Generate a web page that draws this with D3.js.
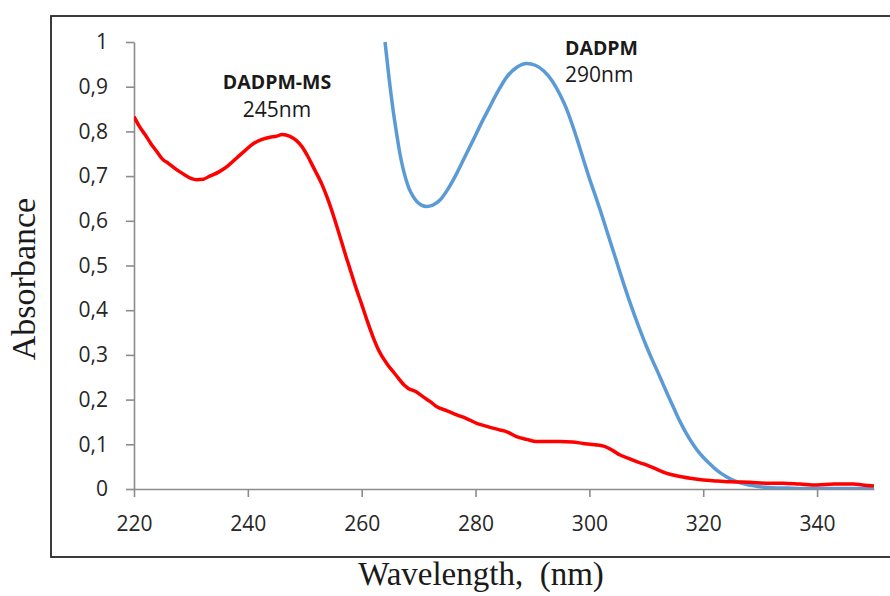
<!DOCTYPE html>
<html>
<head>
<meta charset="utf-8">
<script src="https://cdn.jsdelivr.net/npm/d3@7/dist/d3.min.js"></script>
<style>
  html, body { margin: 0; padding: 0; background: #fff; }
  svg { display: block; }
</style>
</head>
<body>
<svg id="chart" width="890" height="596"></svg>
<script>
// ---------- data ----------
const xTicks = [220, 240, 260, 280, 300, 320, 340];
const xTickLabels = ["220", "240", "260", "280", "300", "320", "340"];
const yTicks = [0, 0.1, 0.2, 0.3, 0.4, 0.5, 0.6, 0.7, 0.8, 0.9, 1];
const yTickLabels = ["0", "0,1", "0,2", "0,3", "0,4", "0,5", "0,6", "0,7", "0,8", "0,9", "1"];

// DADPM-MS (red)
const msWavelength = [220, 221, 222, 223, 224, 225, 226, 227, 228, 229, 230, 231, 232.2, 233, 235, 236.5, 238, 239.5, 241, 242.5, 243.9, 245, 246, 247.4, 248.5, 249.5, 250.5, 251.5, 253, 254, 255, 256.2, 257, 258, 259, 260, 261, 262, 263, 264.4, 266, 267.5, 268.2, 269.5, 270.8, 272, 273.2, 275, 276.7, 278.5, 280.2, 282, 284.3, 285.5, 287.2, 289, 290.7, 293, 294.8, 297, 298.9, 301, 302.5, 304, 305.4, 307, 308.3, 310, 311.5, 313.6, 315.5, 317.7, 320, 322.4, 325, 328.2, 331, 334, 337, 340, 343, 346.4, 348, 350];
const msAbsorbance = [0.833, 0.81, 0.792, 0.772, 0.755, 0.738, 0.729, 0.719, 0.71, 0.702, 0.695, 0.692, 0.693, 0.698, 0.71, 0.723, 0.74, 0.757, 0.773, 0.782, 0.787, 0.789, 0.793, 0.789, 0.78, 0.766, 0.745, 0.72, 0.682, 0.65, 0.613, 0.564, 0.53, 0.49, 0.45, 0.413, 0.375, 0.34, 0.31, 0.281, 0.255, 0.232, 0.225, 0.218, 0.206, 0.196, 0.184, 0.175, 0.166, 0.157, 0.147, 0.14, 0.132, 0.128, 0.117, 0.111, 0.106, 0.106, 0.106, 0.105, 0.102, 0.099, 0.096, 0.087, 0.076, 0.068, 0.061, 0.054, 0.046, 0.035, 0.029, 0.024, 0.020, 0.018, 0.016, 0.015, 0.013, 0.013, 0.011, 0.009, 0.011, 0.011, 0.009, 0.007];

// DADPM (blue)
const dWavelength = [264.1, 264.8, 265.6, 266.2, 266.7, 267.4, 268.2, 269, 269.7, 270.5, 271.4, 272.5, 273.8, 275.2, 276.7, 278.2, 279.6, 281, 282.5, 284, 285.5, 287.2, 289, 290.5, 292, 293.5, 295, 296, 297, 298, 299, 300, 301, 302, 303, 304, 305, 306, 307, 308, 309, 310, 311, 312, 313, 314, 315, 316, 317, 318, 319, 320, 321, 322, 323, 324, 325, 326, 327, 328, 329, 330, 332, 335, 340, 345, 350];
const dAbsorbance = [1.0, 0.92, 0.84, 0.79, 0.751, 0.71, 0.676, 0.655, 0.643, 0.635, 0.632, 0.635, 0.647, 0.672, 0.706, 0.745, 0.781, 0.818, 0.855, 0.891, 0.922, 0.943, 0.952, 0.948, 0.935, 0.912, 0.878, 0.85, 0.815, 0.776, 0.735, 0.695, 0.658, 0.62, 0.58, 0.54, 0.50, 0.46, 0.422, 0.386, 0.352, 0.32, 0.29, 0.262, 0.233, 0.204, 0.176, 0.149, 0.125, 0.104, 0.086, 0.071, 0.058, 0.046, 0.036, 0.028, 0.021, 0.016, 0.012, 0.009, 0.007, 0.005, 0.003, 0.002, 0.001, 0.001, 0.001];

const seriesNames = ["DADPM-MS", "DADPM"];
const seriesPeaks = ["245nm", "290nm"];
const seriesColors = ["#ff0000", "#5b9bd5"];

// ---------- layout ----------
const svg = d3.select("#chart");
const plot = { left: 134, right: 874, top: 42, bottom: 489 };

const x = d3.scaleLinear().domain([220, 350]).range([plot.left, plot.right]);
const y = d3.scaleLinear().domain([0, 1]).range([plot.bottom, plot.top]);

// outer frame
svg.append("rect")
  .attr("x", 51).attr("y", 16)
  .attr("width", 860).attr("height", 541)
  .attr("fill", "none")
  .attr("stroke", "#262626")
  .attr("stroke-width", 1.8);

const tickFont = "'Open Sans', 'Noto Sans', sans-serif";

// y axis
const yAxis = svg.append("g")
  .attr("transform", `translate(${plot.left},0)`)
  .call(d3.axisLeft(y).tickValues(yTicks)
    .tickFormat((d, i) => yTickLabels[i])
    .tickSize(8).tickSizeOuter(0).tickPadding(18));

// x axis
const xAxis = svg.append("g")
  .attr("transform", `translate(0,${plot.bottom})`)
  .call(d3.axisBottom(x).tickValues(xTicks)
    .tickFormat((d, i) => xTickLabels[i])
    .tickSize(8).tickSizeOuter(0));

[yAxis, xAxis].forEach(g => {
  g.select(".domain").attr("stroke", "#8c8c8c").attr("stroke-width", 1.6);
  g.selectAll(".tick line").attr("stroke", "#8c8c8c").attr("stroke-width", 1.6);
  g.selectAll(".tick text")
    .attr("fill", "#262626")
    .style("font-family", tickFont)
    .style("font-size", "21px");
});
xAxis.selectAll(".tick text").attr("dy", null).attr("y", 42);

// lines
svg.append("clipPath").attr("id", "plotclip")
  .append("rect")
  .attr("x", plot.left).attr("y", plot.top - 2)
  .attr("width", plot.right - plot.left + 2)
  .attr("height", plot.bottom - plot.top + 2);

const line = d3.line()
  .x(d => x(d[0]))
  .y(d => y(d[1]))
  .curve(d3.curveMonotoneX);

const msData = msWavelength.map((w, i) => [w, msAbsorbance[i]]);
const dData = dWavelength.map((w, i) => [w, dAbsorbance[i]]);

const gLines = svg.append("g").attr("clip-path", "url(#plotclip)");
gLines.append("path")
  .datum(dData)
  .attr("d", line)
  .attr("fill", "none")
  .attr("stroke", seriesColors[1])
  .attr("stroke-width", 3.5)
  .attr("stroke-linejoin", "round");
gLines.append("path")
  .datum(msData)
  .attr("d", line)
  .attr("fill", "none")
  .attr("stroke", seriesColors[0])
  .attr("stroke-width", 3.5)
  .attr("stroke-linejoin", "round");

// annotations
const ann = svg.append("g").style("font-family", tickFont).attr("fill", "#1a1a1a");
ann.append("text").attr("x", 277).attr("y", 89).attr("text-anchor", "middle")
  .style("font-size", "19.5px").style("font-weight", "700").text(seriesNames[0]);
ann.append("text").attr("x", 277).attr("y", 117).attr("text-anchor", "middle")
  .style("font-size", "21px").text(seriesPeaks[0]);
ann.append("text").attr("x", 565).attr("y", 55).attr("text-anchor", "start")
  .style("font-size", "19.5px").style("font-weight", "700").text(seriesNames[1]);
ann.append("text").attr("x", 565).attr("y", 82).attr("text-anchor", "start")
  .style("font-size", "21px").text(seriesPeaks[1]);

// axis titles
const serif = "'Liberation Serif', 'DejaVu Serif', serif";
svg.append("text")
  .attr("transform", `translate(35,279) rotate(-90)`)
  .attr("text-anchor", "middle")
  .style("font-family", serif).style("font-size", "34px").attr("fill", "#1a1a1a")
  .text("Absorbance");
svg.append("text")
  .attr("x", 481).attr("y", 585)
  .attr("text-anchor", "middle")
  .style("font-family", serif).style("font-size", "33px").attr("fill", "#1a1a1a")
  .style("white-space", "pre")
  .text("Wavelength,  (nm)");
</script>
</body>
</html>
